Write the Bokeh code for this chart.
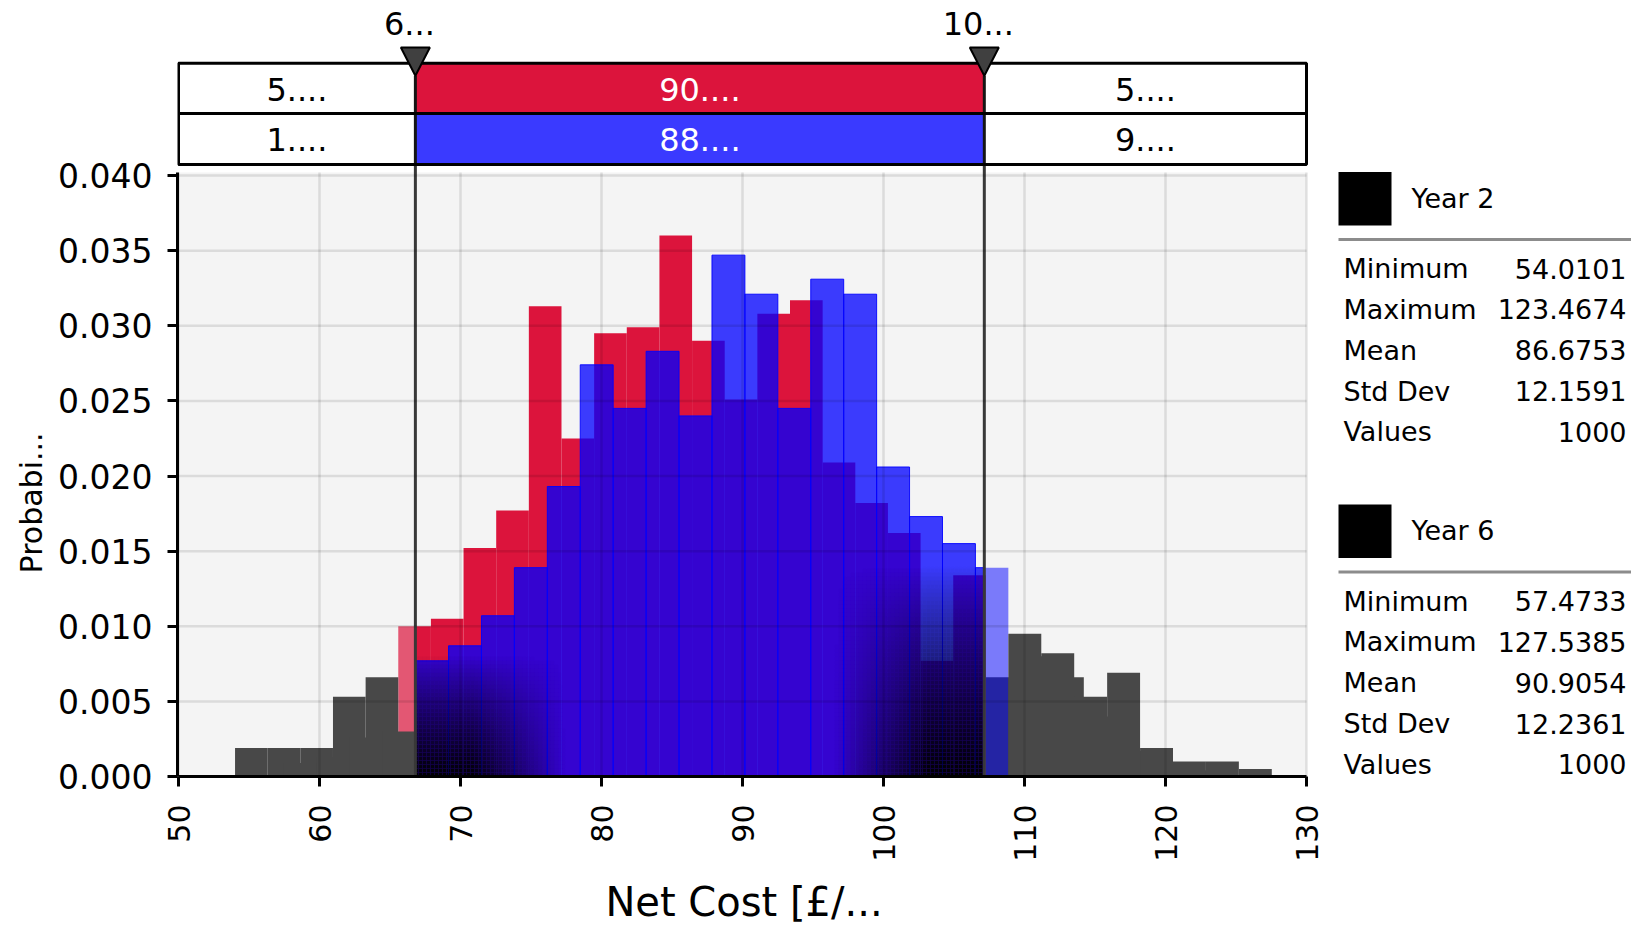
import math
import numpy as np
from bokeh.plotting import figure
from bokeh.models import Range1d, FixedTicker, NumeralTickFormatter, ColumnDataSource
from bokeh.layouts import row
from bokeh.embed import file_html
from bokeh.resources import INLINE
from bokeh.core.properties import value

FONT = "DejaVu Sans"

# ---------------- data ----------------
SERIES = ["Year 2", "Year 6"]
RED_MIN, RED_MAX = 54.0101, 123.4674      # Year 2
BLUE_MIN, BLUE_MAX = 57.4733, 127.5385    # Year 6
RED_H = [0.0019, 0.0019, 0.0019, 0.0053, 0.0066, 0.0100, 0.0105, 0.0152, 0.0177, 0.0313,
         0.0225, 0.0295, 0.0299, 0.0360, 0.0290, 0.0251, 0.0308, 0.0317, 0.0209, 0.0182,
         0.0162, 0.0077, 0.0134, 0.0066, 0.0080, 0.0066, 0.0040, 0.0017, 0.0009, 0.0004]
BLUE_H = [0.0009, 0.0013, 0.0026, 0.0030, 0.0077, 0.0087, 0.0107, 0.0139, 0.0193, 0.0274,
          0.0245, 0.0283, 0.0240, 0.0347, 0.0321, 0.0245, 0.0331, 0.0321, 0.0206, 0.0173,
          0.0155, 0.0139, 0.0095, 0.0082, 0.0053, 0.0069, 0.0019, 0.0010, 0.0010, 0.0005]
DELIMS = [66.8, 107.15]
DELIM_LABELS = ["6...", "10..."]
TABLE_Y2 = ["5....", "90....", "5...."]
TABLE_Y6 = ["1....", "88....", "9...."]
STAT_NAMES = ["Minimum", "Maximum", "Mean", "Std Dev", "Values"]
STATS_Y2 = ["54.0101", "123.4674", "86.6753", "12.1591", "1000"]
STATS_Y6 = ["57.4733", "127.5385", "90.9054", "12.2361", "1000"]
X_TICKS = [50, 60, 70, 80, 90, 100, 110, 120, 130]
Y_TICKS = [0.0, 0.005, 0.010, 0.015, 0.020, 0.025, 0.030, 0.035, 0.040]
X_LABEL = "Net Cost [£/..."
Y_LABEL = "Probabi..."

RED = "#dc143c"
BLUE = "#0000ff"
BLUE_CELL = "#3a3aff"
GRAY = "#484848"

# ---------------- geometry ----------------
X_START, X_END = 50, 130
Y_START, Y_END = 0.0, 0.0402
PLOT_W, PLOT_H = 1128, 604          # pixel size of the histogram area
BASE_Y = 776                        # window row of the x axis
PXX = PLOT_W / (X_END - X_START)
PXY = PLOT_H / (Y_END - Y_START)
PAD_L, PAD_R = 1, 4                 # frame slack so the table border is not clipped
L, R = DELIMS


def wy(w):
    """window row (pixels from top) -> y value of the main frame"""
    return (BASE_Y - w) / PXY


red_edges = np.linspace(RED_MIN, RED_MAX, len(RED_H) + 1)
blue_edges = np.linspace(BLUE_MIN, BLUE_MAX, len(BLUE_H) + 1)


def split(edges, heights):
    parts = {k: {"left": [], "right": [], "top": []} for k in ("full", "light", "gray")}

    def add(k, a, b, h):
        parts[k]["left"].append(a)
        parts[k]["right"].append(b)
        parts[k]["top"].append(h)

    for a, b, h in zip(edges[:-1], edges[1:], heights):
        ia, ib = max(a, L), min(b, R)
        if ib - ia <= 0.1:
            add("gray", a, b, h)
        else:
            add("full", ia, ib, h)
            if a < L:
                add("light", a, L, h)
            if b > R:
                add("light", R, b, h)
    return parts


red_parts = split(red_edges, RED_H)
blue_parts = split(blue_edges, BLUE_H)

p = figure(frame_width=PLOT_W + PAD_L + PAD_R, frame_height=BASE_Y,
           x_range=Range1d(X_START - PAD_L / PXX, X_END + PAD_R / PXX),
           y_range=Range1d(0, wy(0)),
           toolbar_location=None, output_backend="svg",
           min_border_left=178 - PAD_L, min_border_right=16, min_border_top=0, min_border_bottom=0,
           background_fill_color="white", border_fill_color="white",
           outline_line_color=None)
p.grid.visible = False

# plot-area background
p.quad(left=[X_START], right=[X_END], bottom=[Y_START], top=[Y_END], fill_color="#f4f4f4", line_color=None)

p.quad(left="left", right="right", top="top", bottom=0,
       source=ColumnDataSource(red_parts["full"]), fill_color=RED, line_color=None)
p.quad(left="left", right="right", top="top", bottom=0,
       source=ColumnDataSource(red_parts["light"]), fill_color=RED, fill_alpha=0.7, line_color=None)
p.quad(left="left", right="right", top="top", bottom=0,
       source=ColumnDataSource(red_parts["gray"]), fill_color=GRAY, line_color=None)
p.quad(left="left", right="right", top="top", bottom=0,
       source=ColumnDataSource(blue_parts["full"]), fill_color=BLUE, fill_alpha=0.76,
       line_color=BLUE, line_alpha=0.9, line_width=1)
p.quad(left="left", right="right", top="top", bottom=0,
       source=ColumnDataSource(blue_parts["light"]), fill_color=BLUE, fill_alpha=0.5, line_color=None)
p.quad(left="left", right="right", top="top", bottom=0,
       source=ColumnDataSource(blue_parts["gray"]), fill_color=GRAY, line_color=None)


# dark shading at the foot of each delimiter (inside region only)
def h_at(edges, hs, xd):
    i = int(np.searchsorted(edges, xd, side="right")) - 1
    return hs[i] if 0 <= i < len(hs) else 0.0


cells = {"left": [], "right": [], "bottom": [], "top": [], "alpha": []}
Lp, Rp = (L - X_START) * PXX, (R - X_START) * PXX
edge_px = np.concatenate([(red_edges - X_START) * PXX, (blue_edges - X_START) * PXX])
STEP = 4
RX = 150.0
for anchor, sign, ry in ((Lp, 1, 120.0), (Rp, -1, 210.0)):
    if sign > 0:
        lo, hi = anchor, min(anchor + RX, Rp)
    else:
        lo, hi = max(anchor - RX, Lp), anchor
    bnds = {lo, hi}
    bnds.update(float(v) for v in np.arange(math.ceil(lo / STEP) * STEP, hi, STEP) if lo < v < hi)
    bnds.update(float(e) for e in edge_px if lo < e < hi)
    bnds = sorted(bnds)
    for c0, c1 in zip(bnds[:-1], bnds[1:]):
        if c1 - c0 < 0.05:
            continue
        xm = (c0 + c1) / 2
        xd = X_START + xm / PXX
        env = max(h_at(red_edges, RED_H, xd), h_at(blue_edges, BLUE_H, xd)) * PXY
        fx = min(1.0, max(0.0, 1.6 * (1 - abs(xm - anchor) / RX)))
        ytop = min(env, ry)
        y0 = 0.0
        while y0 < ytop - 0.01:
            y1 = min(y0 + STEP, ytop)
            ym = (y0 + y1) / 2
            fy = max(0.0, 1 - ym / ry) ** 0.85
            a = fx * fy
            if a > 0.01:
                cells["left"].append(X_START + c0 / PXX)
                cells["right"].append(X_START + c1 / PXX)
                cells["bottom"].append(y0 / PXY)
                cells["top"].append(y1 / PXY)
                cells["alpha"].append(a)
            y0 = y1

p.quad(left="left", right="right", top="top", bottom="bottom", source=ColumnDataSource(cells),
       fill_color="black", fill_alpha="alpha", line_color=None)

# grid lines drawn over the bars
p.segment(x0=X_TICKS, x1=X_TICKS, y0=[Y_START] * len(X_TICKS), y1=[Y_END] * len(X_TICKS),
          line_color="black", line_alpha=0.1, line_width=2.5, level="overlay")
p.segment(x0=[X_START] * len(Y_TICKS), x1=[X_END] * len(Y_TICKS), y0=Y_TICKS, y1=Y_TICKS,
          line_color="black", line_alpha=0.1, line_width=2.5, level="overlay")

# ---------------- delimiter table above the plot ----------------
ROWS = [(wy(112.9), wy(62.7)), (wy(164.1), wy(112.9))]
cell_src = {"left": [], "right": [], "bottom": [], "top": [], "color": []}
txt_src = {"x": [], "y": [], "text": [], "color": []}
bounds = [X_START, L, R, X_END]
for (yb, yt), texts, mid_color, ty in zip(ROWS, (TABLE_Y2, TABLE_Y6), (RED, BLUE_CELL), (wy(89), wy(139))):
    for k in range(3):
        cell_src["left"].append(bounds[k])
        cell_src["right"].append(bounds[k + 1])
        cell_src["bottom"].append(yb)
        cell_src["top"].append(yt)
        cell_src["color"].append(mid_color if k == 1 else "white")
        txt_src["x"].append((bounds[k] + bounds[k + 1]) / 2)
        txt_src["y"].append(ty)
        txt_src["text"].append(texts[k])
        txt_src["color"].append("white" if k == 1 else "black")
p.quad(left="left", right="right", top="top", bottom="bottom", fill_color="color",
       line_color=None, source=ColumnDataSource(cell_src))
p.text(x="x", y="y", text="text", text_color="color", source=ColumnDataSource(txt_src),
       text_font=value(FONT), text_font_size=value("32px"), text_align="center", text_baseline="middle")

APEX, TRI_TOP, TRI_HALF = wy(75.3), wy(47), 14.5 / PXX
p.segment(x0=DELIMS, x1=DELIMS, y0=[wy(164.1)] * 2, y1=[APEX] * 2, line_color="#151515", line_width=3)
p.segment(x0=DELIMS, x1=DELIMS, y0=[Y_START] * 2, y1=[wy(164.1)] * 2, line_color="#383838", line_width=3)
p.quad(left=[X_START], right=[X_END], top=[ROWS[0][1]], bottom=[ROWS[1][0]],
       fill_color=None, line_color="black", line_width=3)
p.segment(x0=[X_START], x1=[X_END], y0=[ROWS[0][0]], y1=[ROWS[0][0]], line_color="black", line_width=3)
p.patches(xs=[[d - TRI_HALF, d + TRI_HALF, d] for d in DELIMS],
          ys=[[TRI_TOP, TRI_TOP, APEX] for _ in DELIMS],
          fill_color="#404040", line_color="black", line_width=2)
p.text(x=DELIMS, y=[wy(23)] * 2, text=DELIM_LABELS, x_offset=-6,
       text_font=value(FONT), text_font_size=value("32px"), text_color="black",
       text_align="center", text_baseline="middle")

# ---------------- axes ----------------
p.xaxis.ticker = FixedTicker(ticks=X_TICKS)
p.yaxis.ticker = FixedTicker(ticks=Y_TICKS)
p.xaxis.bounds = (X_START, X_END)
p.yaxis.bounds = (Y_START, Y_END)
p.yaxis.formatter = NumeralTickFormatter(format="0.000")
p.xaxis.major_label_orientation = math.pi / 2
p.xaxis.axis_label = X_LABEL
# trailing no-break spaces push the rotated title down to the middle of the histogram area
p.yaxis.axis_label = Y_LABEL + "\u00a0" * 24
for ax in p.axis:
    ax.axis_line_width = 3
    ax.axis_line_color = "black"
    ax.major_tick_line_width = 3
    ax.major_tick_line_color = "black"
    ax.major_tick_out = 10
    ax.major_tick_in = 0
    ax.minor_tick_out = 0
    ax.minor_tick_in = 0
    ax.major_label_text_font = FONT
    ax.major_label_text_color = "black"
    ax.axis_label_text_font = FONT
    ax.axis_label_text_font_style = "normal"
    ax.axis_label_text_color = "black"
p.xaxis.major_label_text_font_size = "30px"
p.yaxis.major_label_text_font_size = "33px"
p.xaxis.major_label_standoff = 18
p.yaxis.major_label_standoff = 15
p.xaxis.axis_label_text_font_size = "40px"
p.yaxis.axis_label_text_font_size = "30px"
p.xaxis.axis_label_standoff = 14
p.yaxis.axis_label_standoff = 6

# ---------------- stats panel ----------------
S_X0 = 178 - PAD_L + PLOT_W + PAD_L + PAD_R + 16
S_W = 1631 - S_X0
S_H = 820
s = figure(frame_width=S_W, frame_height=S_H,
           x_range=Range1d(S_X0, S_X0 + S_W), y_range=Range1d(S_H, 0),
           toolbar_location=None, output_backend="svg",
           x_axis_location=None, y_axis_location=None,
           min_border_left=0, min_border_right=0, min_border_top=0, min_border_bottom=0,
           background_fill_color="white", border_fill_color="white", outline_line_color=None)
s.grid.visible = False

for name, stats, top in zip(SERIES, (STATS_Y2, STATS_Y6), (171.5, 504)):
    s.quad(left=[1338], right=[1391], top=[top], bottom=[top + 53.5], fill_color="black", line_color=None)
    s.text(x=[1411], y=[top + 26], text=[name], text_font=value(FONT), text_font_size=value("27px"),
           text_color="black", text_align="left", text_baseline="middle")
    s.segment(x0=[1338], x1=[S_X0 + S_W], y0=[top + 67.4], y1=[top + 67.4],
              line_color="#8c8c8c", line_width=3)
    ys = [top + 96.6 + 40.8 * k for k in range(len(STAT_NAMES))]
    s.text(x=[1343] * len(STAT_NAMES), y=ys, text=STAT_NAMES, text_font=value(FONT),
           text_font_size=value("27px"), text_color="black", text_align="left", text_baseline="middle")
    s.text(x=[1626] * len(stats), y=ys, text=stats, text_font=value(FONT),
           text_font_size=value("27px"), text_color="black", text_align="right", text_baseline="middle")

layout = row(p, s)
open("out.html", "w").write(file_html(layout, INLINE, title="Net Cost distribution"))
